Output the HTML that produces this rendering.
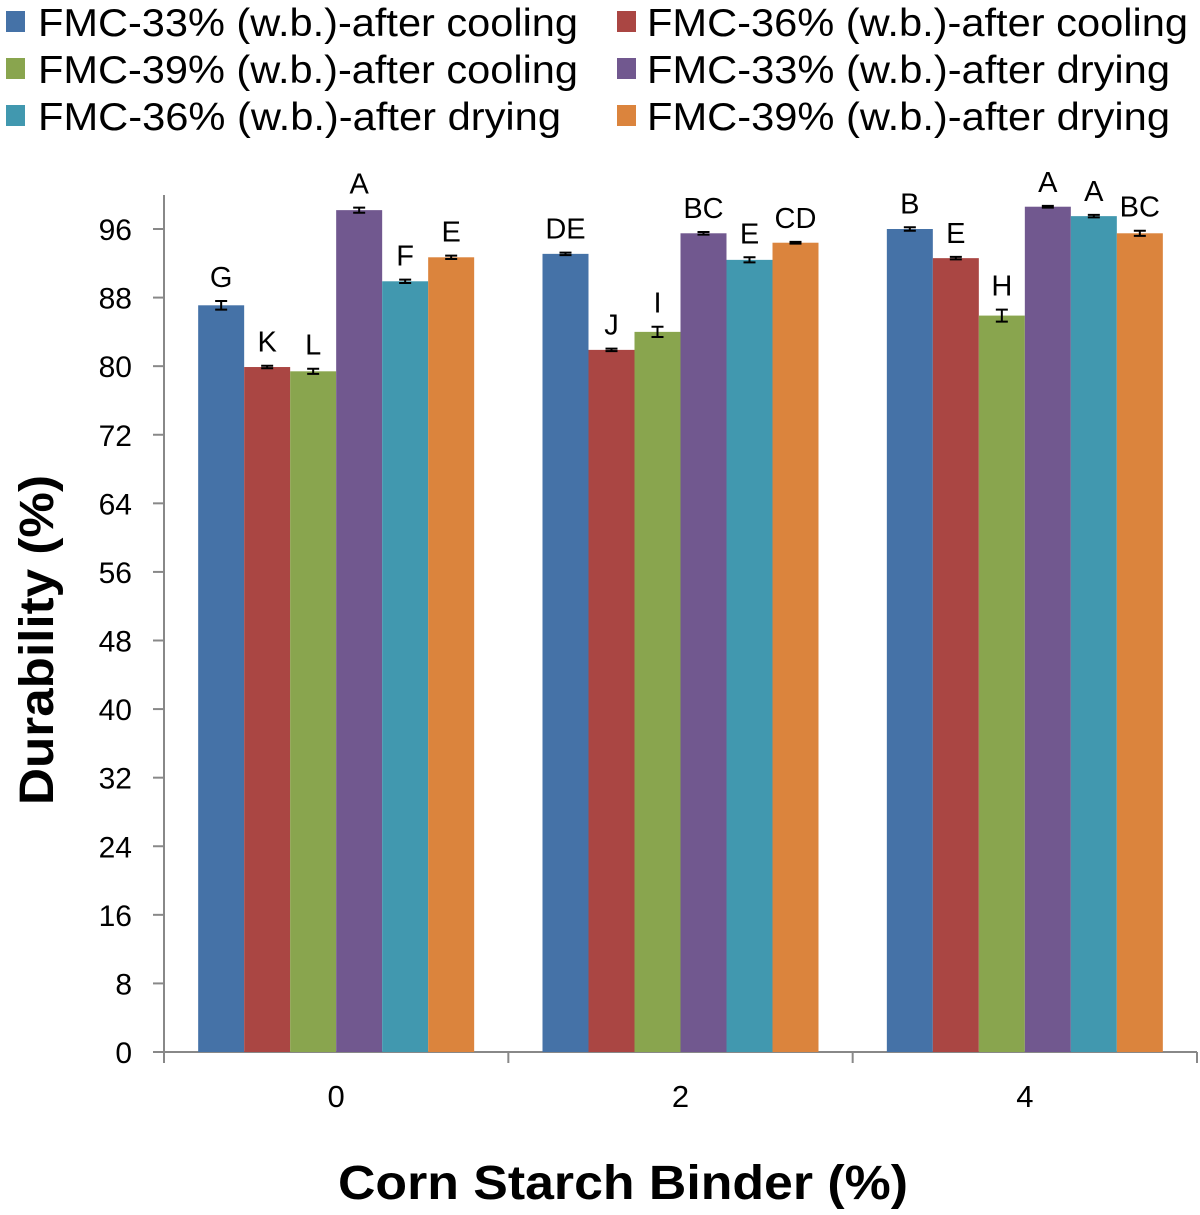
<!DOCTYPE html>
<html><head><meta charset="utf-8"><style>
html,body{margin:0;padding:0;background:#fff;}
svg{display:block;font-family:"Liberation Sans",Arial,sans-serif;}
</style></head><body>
<svg id="chart" width="1200" height="1215" viewBox="0 0 1200 1215" xmlns="http://www.w3.org/2000/svg">
<g id="legend"></g>
<g id="axes"></g>
<g id="bars"></g>
<text transform="translate(53,640) rotate(-90)" text-anchor="middle" font-size="48" font-weight="bold" textLength="330" lengthAdjust="spacingAndGlyphs">Durability (%)</text>
<text x="623" y="1199" text-anchor="middle" font-size="48" font-weight="bold" textLength="570" lengthAdjust="spacingAndGlyphs">Corn Starch Binder (%)</text>
</svg>
<script>
const categories = ["0","2","4"];
const seriesNames = ["FMC-33% (w.b.)-after cooling","FMC-36% (w.b.)-after cooling","FMC-39% (w.b.)-after cooling","FMC-33% (w.b.)-after drying","FMC-36% (w.b.)-after drying","FMC-39% (w.b.)-after drying"];
const seriesColors = ["#4572A7","#AA4643","#89A54E","#71588F","#4198AF","#DB843D"];
const s1 = [87.1, 93.1, 96.0];
const s2 = [79.9, 81.9, 92.6];
const s3 = [79.4, 84.0, 85.9];
const s4 = [98.2, 95.5, 98.6];
const s5 = [89.9, 92.4, 97.5];
const s6 = [92.7, 94.4, 95.5];
const e1 = [0.5, 0.15, 0.2];
const e2 = [0.15, 0.15, 0.15];
const e3 = [0.3, 0.6, 0.7];
const e4 = [0.3, 0.15, 0.1];
const e5 = [0.2, 0.3, 0.15];
const e6 = [0.2, 0.1, 0.3];
const l1 = ["G","DE","B"];
const l2 = ["K","J","E"];
const l3 = ["L","I","H"];
const l4 = ["A","BC","A"];
const l5 = ["F","E","A"];
const l6 = ["E","CD","BC"];
const yTicks = [0,8,16,24,32,40,48,56,64,72,80,88,96];

const NS="http://www.w3.org/2000/svg";
function mk(tag,attrs,parent,txt){const e=document.createElementNS(NS,tag);for(const k in attrs)e.setAttribute(k,attrs[k]);if(txt!==undefined)e.textContent=txt;parent.appendChild(e);return e;}
const X0=164,X1=1197,Y0=1052,YT=229;
const yS=v=>Y0-(v/96)*(Y0-YT);
const catW=(X1-X0)/categories.length;
const barW=46;
const xBar=(ci,si)=>X0+ci*catW+(catW-barW*6)/2+si*barW;

const legend=document.getElementById('legend');
const legendLens=[540,541,540,523,523,523];
seriesNames.forEach((n,i)=>{
  const col=i%2, row=Math.floor(i/2);
  const x=col?617:6, y=11+row*47;
  const r=mk('rect',{x:x,y:y,width:19,height:21,fill:seriesColors[i]},legend);
  
  
  const t=mk('text',{x:col?647:38,y:y+25,'font-size':39,textLength:legendLens[i],lengthAdjust:'spacingAndGlyphs'},legend,n);
  
  
});

const axes=document.getElementById('axes');
const ya=mk('line',{x1:X0,y1:195,x2:X0,y2:Y0,stroke:'#888','stroke-width':2},axes);


yTicks.forEach(v=>{
  mk('line',{x1:X0-11,y1:yS(v),x2:X0,y2:yS(v),stroke:'#888','stroke-width':2},axes);
  const t=mk('text',{x:X0-32,y:yS(v)+11,'text-anchor':'end','font-size':30},axes,String(v));
  
  
});
const xa=mk('line',{x1:X0,y1:Y0,x2:X1,y2:Y0,stroke:'#888','stroke-width':2},axes);


for(let i=0;i<=categories.length;i++){
  mk('line',{x1:X0+i*catW,y1:Y0,x2:X0+i*catW,y2:Y0+11,stroke:'#888','stroke-width':2},axes);
}
categories.forEach((c,i)=>{
  const t=mk('text',{x:X0+(i+0.5)*catW,y:1107,'text-anchor':'middle','font-size':31},axes,c);
  
  
});

const bars=document.getElementById('bars');
const S=[s1,s2,s3,s4,s5,s6], E=[e1,e2,e3,e4,e5,e6], L=[l1,l2,l3,l4,l5,l6];
categories.forEach((c,ci)=>{
  S.forEach((s,si)=>{
    const x=xBar(ci,si), v=s[ci], y=yS(v);
    const r=mk('rect',{x:x,y:y,width:barW,height:Y0-y,fill:seriesColors[si]},bars);
    
    
    const cx=x+barW/2, eu=yS(v+E[si][ci]), ed=yS(v-E[si][ci]);
    const eb=mk('path',{d:`M${cx},${eu}V${ed}M${cx-6},${eu}H${cx+6}M${cx-6},${ed}H${cx+6}`,stroke:'#000','stroke-width':2,fill:'none'},bars);
    
    
    const t=mk('text',{x:cx,y:eu-14,'text-anchor':'middle','font-size':29},bars,L[si][ci]);
    
    
  });
});
</script>
</body></html>
